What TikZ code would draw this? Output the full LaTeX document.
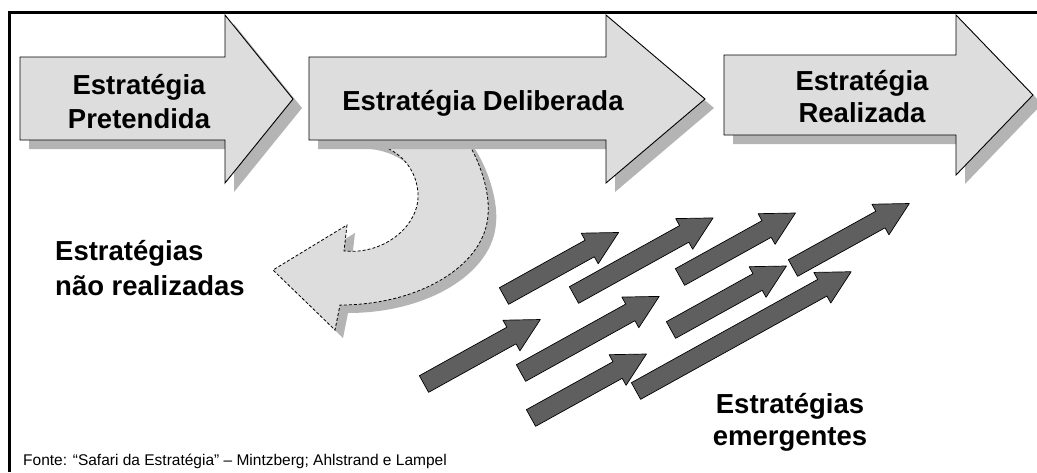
\documentclass[tikz,border=0pt]{standalone}
\usepackage{fontspec}
\setmainfont{Liberation Sans}
\definecolor{arrowfill}{HTML}{DDDDDD}
\definecolor{shadowgray}{HTML}{B4B4B4}
\definecolor{darkfill}{HTML}{5F5F5F}
\newcommand\bigarr[8]{% #1 opts, #2 xl, #3 ytop, #4 ybot, #5 xh, #6 yht, #7 yhb, #8 xtip
  \path[#1] (#2,#3) -- (#5,#3) -- (#5,#6) -- (#8,{(#6+#7)/2}) -- (#5,#7) -- (#5,#4) -- (#2,#4) -- cycle;}
\newcommand\emarr[3]{% tail x, tail y, length
  \path[emerg,shift={(#1,#2)},rotate=29] (0,-9.5) -- ({#3-33},-9.5) -- ({#3-33},-17.5) -- (#3,0) -- ({#3-33},17.5) -- ({#3-33},9.5) -- (0,9.5) -- cycle;}
\newcommand\uturnshape[2]{%
  \path[#1] (467,141) .. controls (482,165) and (490,195) .. (488,215)
    .. controls (485,265) and (420,305) .. (340,305) -- (335,330) -- (273,270) -- (347,225) -- (344,251)
    .. controls (385,255) and (420,225) .. (418,193)
    .. controls (416,165) and (395,145) .. (363,141) #2;}
\begin{document}
\begin{tikzpicture}[x=1pt,y=-1pt,
  big/.style={fill=arrowfill,draw=black,line width=0.9pt,line join=miter},
  shad/.style={fill=shadowgray},
  emerg/.style={fill=darkfill,draw=black,line width=0.7pt,line join=round},
  title/.style={font=\fontsize{27.5}{33}\selectfont\bfseries,inner sep=0pt,anchor=base},
  srcfont/.style={font=\fontsize{15.5}{18}\selectfont,inner sep=0pt,anchor=base west}]
\useasboundingbox (0,0) rectangle (1037,472);
\fill[white] (0,0) rectangle (1037,472);
% U-turn (unrealized strategies)
\uturnshape{shad,shift={(8,8)}}{-- cycle}
\uturnshape{fill=arrowfill}{-- cycle}
\uturnshape{draw=black,line width=0.8pt,dash pattern=on 3pt off 2pt}{}
% big arrows: shadows then arrows
\bigarr{shad,shift={(9,9)}}{20}{57}{140}{225}{15}{183}{293}
\bigarr{shad,shift={(9,9)}}{309}{57}{140}{606}{15}{183}{705}
\bigarr{shad,shift={(9,9)}}{724}{55}{135}{956}{15}{175}{1033}
\bigarr{big}{20}{57}{140}{225}{15}{183}{293}
\bigarr{big}{309}{57}{140}{606}{15}{183}{705}
\bigarr{big}{724}{55}{135}{956}{15}{175}{1033}
% emergent arrows
\emarr{504}{296}{131}
\emarr{574}{295}{159}
\emarr{680}{277}{132}
\emarr{793}{268}{133}
\emarr{424}{384}{133}
\emarr{521}{373}{158}
\emarr{671}{330}{132}
\emarr{531}{418}{132}
\emarr{636}{391}{246}
% frame
\draw[line width=3pt] (9.5,472) -- (9.5,12) -- (1037,12);
% texts
\node[title] (p1) at (139,94) {Estratégia};
\node[title] (p2) at (139,128) {Pretendida};
\node[title] (d1) at (483,110) {Estratégia Deliberada};
\node[title] (r1) at (862,90) {Estratégia};
\node[title] (r2) at (862,122) {Realizada};
\node[title,anchor=base west] (n1) at (55,260) {Estratégias};
\node[title,anchor=base west] (n2) at (55,295) {não realizadas};
\node[title] (e1) at (790,413) {Estratégias};
\node[title] (e2) at (790,445) {emergentes};
\node[srcfont] (src) at (23,465) {Fonte: “Safari da Estratégia” – Mintzberg; Ahlstrand e Lampel};
\end{tikzpicture}
\end{document}
